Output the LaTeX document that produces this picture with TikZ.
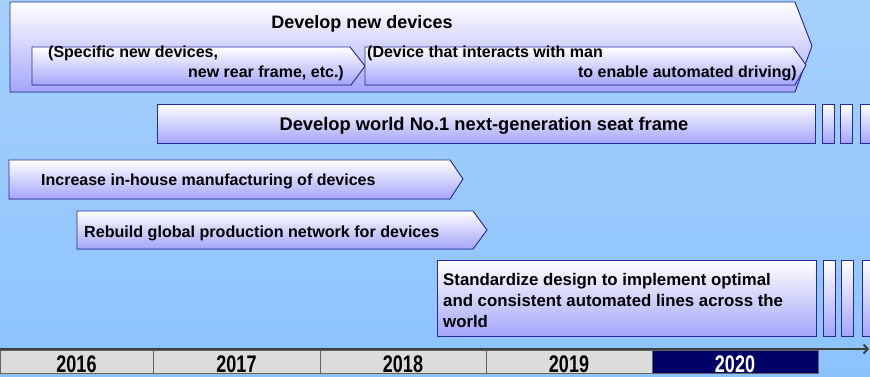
\documentclass[tikz,border=0pt]{standalone}
\usepackage{fontspec}
\usetikzlibrary{arrows.meta}
\setmainfont{Liberation Sans}
\newfontfamily\yearfont[FakeStretch=0.75]{Liberation Sans}
\definecolor{bgtop}{RGB}{165,208,250}
\definecolor{bgbot}{RGB}{140,195,255}
\definecolor{lav}{RGB}{165,165,250}
\definecolor{edge}{RGB}{40,40,160}
\definecolor{cellgrey}{RGB}{220,220,220}
\definecolor{cellline}{RGB}{100,100,100}
\definecolor{navy}{RGB}{0,0,102}
\definecolor{axis}{RGB}{64,64,64}
\tikzset{
  shp/.style={draw=edge, line width=0.9pt, top color=white, bottom color=lav, line join=miter},
  txt/.style={inner sep=0pt, font=\bfseries\fontsize{#1}{#1}\selectfont, text=black},
  ml/.style={inner sep=0pt, align=left, font=\bfseries\fontsize{16.8}{21}\selectfont},
  cell/.style={draw=cellline, line width=0.8pt, fill=cellgrey},
  yr/.style={inner sep=0pt, font=\yearfont\bfseries\fontsize{24}{24}\selectfont},
}
\begin{document}
\begin{tikzpicture}[x=1pt,y=-1pt]
\useasboundingbox (0,0) rectangle (870,376);
\shade[top color=bgtop, bottom color=bgbot] (0,0) rectangle (870,376);

% Develop new devices (outer arrow)
\filldraw[shp] (10,2) -- (795,2) -- (812,46) -- (795,92) -- (10,92) -- cycle;
\node[txt=18, anchor=base] (devnew) at (362,28) {Develop new devices};
% sub arrows
\filldraw[shp] (32,47) -- (350,47) -- (365,66) -- (351,85) -- (32,85) -- cycle;
\filldraw[shp] (365,47) -- (793,47) -- (806,65) -- (795,85) -- (365,85) -- cycle;
\node[txt=16, anchor=base west] (s1a) at (48,57) {(Specific new devices,};
\node[txt=16, anchor=base east] (s1b) at (344,77) {new rear frame, etc.)};
\node[txt=16, anchor=base west] (s2a) at (367,57) {(Device that interacts with man};
\node[txt=16, anchor=base east] (s2b) at (797,77) {to enable automated driving)};

% Seat frame
\filldraw[shp] (157,104) rectangle (815,143);
\filldraw[shp] (822,104) rectangle (834,143);
\filldraw[shp] (840,104) rectangle (852,143);
\filldraw[shp] (860,104) rectangle (875,143);
\node[txt=18.3, anchor=base] (seat) at (484,130) {Develop world No.1 next-generation seat frame};

% Increase in-house
\filldraw[shp] (9,160) -- (450,160) -- (463,179) -- (450,199) -- (9,199) -- cycle;
\node[txt=16, anchor=base west] (inc) at (41,185) {Increase in-house manufacturing of devices};

% Rebuild
\filldraw[shp] (77,211) -- (473,211) -- (487,230) -- (473,249) -- (77,249) -- cycle;
\node[txt=16.1, anchor=base west] (reb) at (84,237) {Rebuild global production network for devices};

% Standardize
\filldraw[shp] (437,260) rectangle (816,336);
\filldraw[shp] (823,260) rectangle (835,336);
\filldraw[shp] (841,260) rectangle (853,336);
\filldraw[shp] (862,260) rectangle (875,336);
\node[ml, anchor=base west] (std) at (443,327) {Standardize design to implement optimal\\and consistent automated lines across the\\world};

% Timeline
\draw[cell] (0,350) rectangle (153,373);
\draw[cell] (153,350) rectangle (320,373);
\draw[cell] (320,350) rectangle (486,373);
\draw[cell] (486,350) rectangle (652,373);
\draw[draw=cellline, line width=0.8pt, fill=navy] (652,350) rectangle (818,373);
\node[yr, anchor=base] (y16) at (76.5,372) {2016};
\node[yr, anchor=base] (y17) at (236.5,372) {2017};
\node[yr, anchor=base] (y18) at (403,372) {2018};
\node[yr, anchor=base] (y19) at (569,372) {2019};
\node[yr, anchor=base, text=white] (y20) at (735,372) {2020};
\coordinate (ax0) at (0,349);
\coordinate (ax1) at (869,349);
\draw[axis, line width=2pt, -{Straight Barb[length=4pt,width=9pt]}] (ax0) -- (ax1);
\end{tikzpicture}
\end{document}
